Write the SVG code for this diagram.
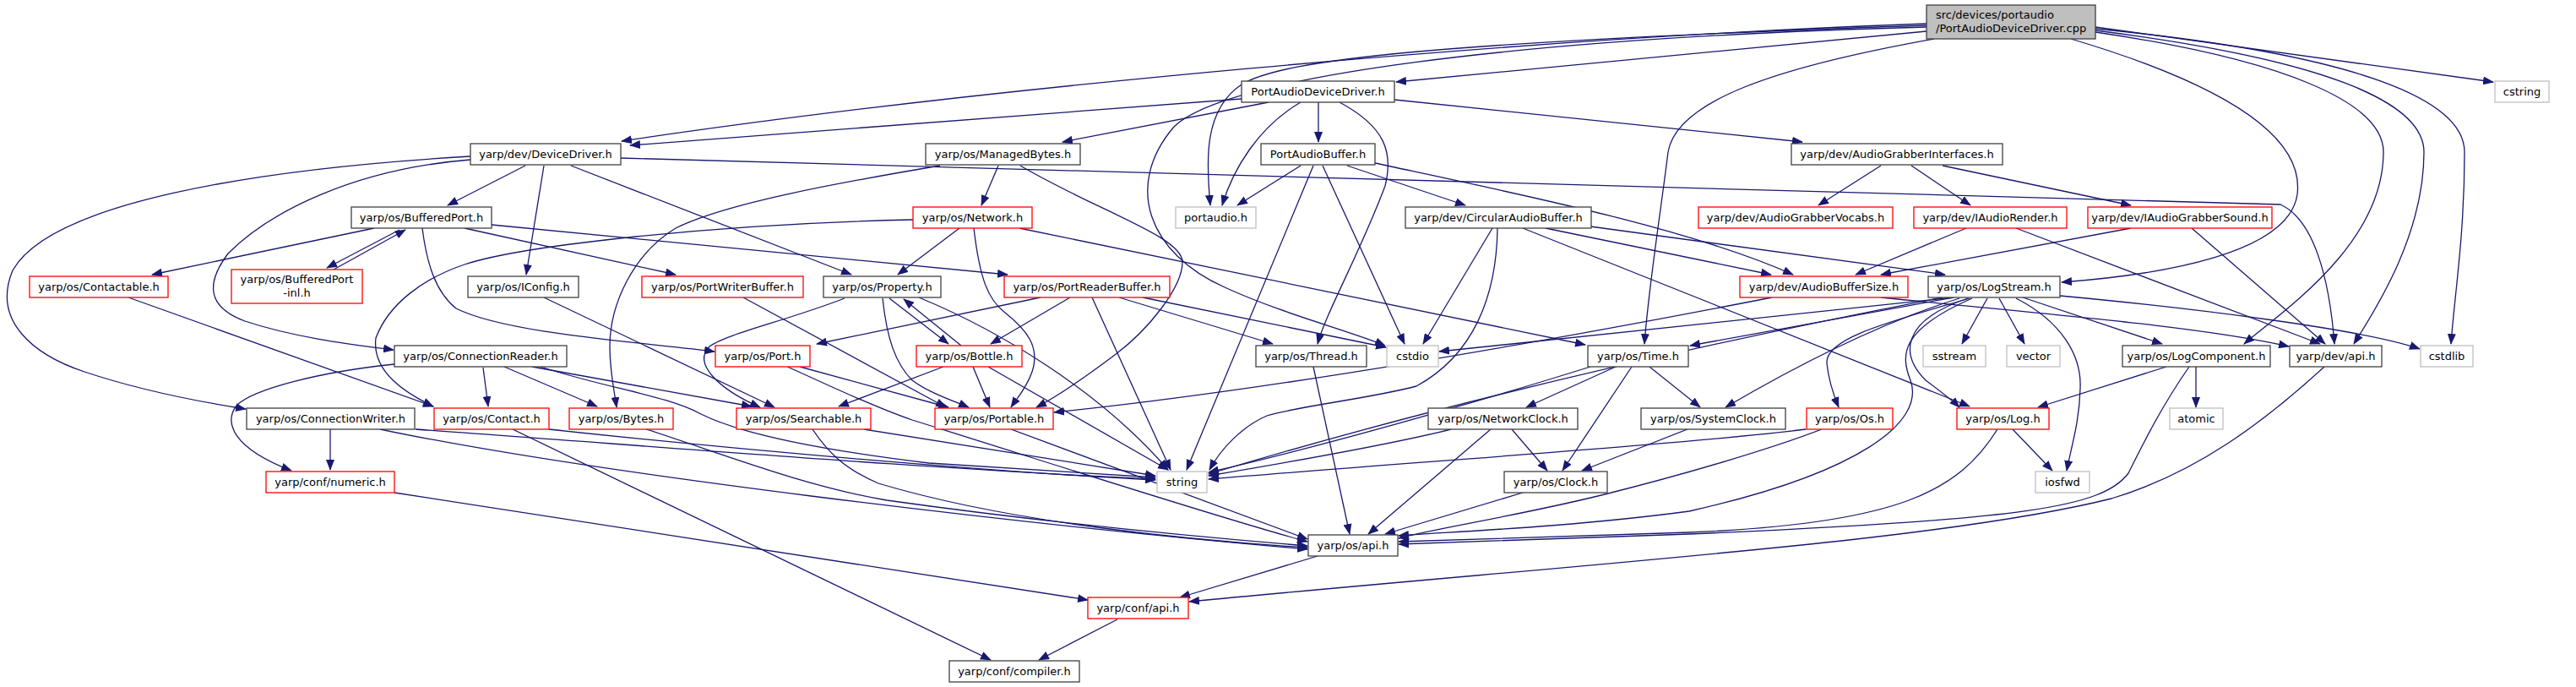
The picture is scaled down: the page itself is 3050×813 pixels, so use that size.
<svg xmlns="http://www.w3.org/2000/svg" width="3050" height="813" viewBox="0 0 3050 813">
<defs>
<marker id="ah" markerWidth="13" markerHeight="10" refX="12" refY="5" orient="auto" markerUnits="userSpaceOnUse"><path d="M0,0 L13,5 L0,10 z" fill="#191970"/></marker>
<style>
.n rect{fill:#fff;stroke:#404040;stroke-width:1.3}
.r rect{fill:#fff;stroke:#ff0000;stroke-width:1.3}
.g rect{fill:#fff;stroke:#bfbfbf;stroke-width:1.3}
.m rect{fill:#bfbfbf;stroke:#404040;stroke-width:1.3}
text{font-family:"DejaVu Sans","Liberation Sans",sans-serif;font-size:13px;fill:#000;text-anchor:middle}
.lt{text-anchor:start}
#edges path{fill:none;stroke:#191970;stroke-width:1.3;marker-end:url(#ah)}
</style>
</defs>
<rect width="3050" height="813" fill="#fff"/>
<g id="edges">
<path d="M2281,37 L1653,97"/>
<path d="M2281,28 C1800,45 1150,105 736,167"/>
<path d="M1470,117 L746,172"/>
<path d="M2281,30 C1700,50 1520,70 1470,100 C1425,130 1428,190 1433,243"/>
<path d="M2281,32 C1800,45 1450,90 1390,150 C1330,220 1360,300 1450,340 C1520,372 1600,392 1640,409"/>
<path d="M2290,46 C2100,80 1985,120 1975,180 C1965,260 1952,340 1947,407"/>
<path d="M2452,46 C2600,90 2730,150 2720,230 C2710,300 2560,325 2441,334"/>
<path d="M2481,38 C2700,70 2822,120 2822,180 C2822,290 2700,370 2657,407"/>
<path d="M2481,36 C2750,70 2870,120 2870,180 C2870,280 2810,370 2787,407"/>
<path d="M2481,34 C2800,65 2918,120 2918,180 C2918,280 2906,350 2902,407"/>
<path d="M2481,32 L2952,97"/>
<path d="M1502,121 L1258,168"/>
<path d="M1561,121 L1561,168"/>
<path d="M1540,121 C1490,150 1460,200 1447,243"/>
<path d="M1586,121 C1640,150 1650,180 1640,220 C1610,300 1570,370 1560,407"/>
<path d="M1651,118 L2134,168"/>
<path d="M1540,196 L1465,243"/>
<path d="M1555,196 L1405,556"/>
<path d="M1566,196 L1663,407"/>
<path d="M1595,196 L1735,243"/>
<path d="M1628,193 C1800,230 2000,270 2123,325"/>
<path d="M1767,270 L1685,407"/>
<path d="M1773,270 C1772,350 1745,420 1677,457 C1620,472 1540,480 1500,492 C1470,505 1445,532 1432,556"/>
<path d="M1803,270 L2332,481"/>
<path d="M1830,270 L2097,325"/>
<path d="M1883,268 L2303,325"/>
<path d="M2227,196 L2153,243"/>
<path d="M2263,196 L2333,243"/>
<path d="M2300,196 L2523,243"/>
<path d="M2328,270 L2197,325"/>
<path d="M2387,270 L2747,407"/>
<path d="M2523,270 L2227,325"/>
<path d="M2595,270 L2753,407"/>
<path d="M735,187 L2700,242 C2740,260 2758,330 2764,407"/>
<path d="M557,185 C300,200 60,240 15,320 C-10,380 40,420 100,440 C160,460 220,473 291,484"/>
<path d="M557,189 C420,200 320,250 270,300 C240,340 250,365 290,380 C350,400 420,408 466,414"/>
<path d="M622,196 L530,243"/>
<path d="M644,196 L623,325"/>
<path d="M676,196 L1008,325"/>
<path d="M1182,196 L1162,243"/>
<path d="M1208,196 C1300,250 1400,280 1400,310 C1400,340 1360,390 1320,420 C1280,450 1250,470 1227,482"/>
<path d="M1113,196 C1000,215 860,240 800,270 C750,300 722,360 722,410 C722,440 727,460 730,482"/>
<path d="M443,270 L180,325"/>
<path d="M473,272 L387,317"/>
<path d="M395,319 L480,272"/>
<path d="M500,270 C505,310 515,345 540,365 C600,395 760,405 846,416"/>
<path d="M550,270 L800,325"/>
<path d="M582,266 L1193,325"/>
<path d="M152,352 L513,481"/>
<path d="M644,352 L917,482"/>
<path d="M880,352 L1120,482"/>
<path d="M1000,353 C930,380 860,395 840,410 C820,430 850,460 900,482"/>
<path d="M1053,353 L1123,407"/>
<path d="M1138,409 L1070,354"/>
<path d="M1045,353 C1050,400 1060,430 1080,450 C1100,465 1130,475 1147,482"/>
<path d="M1088,352 C1180,390 1300,460 1383,556"/>
<path d="M1136,270 L1063,325"/>
<path d="M1153,270 C1160,330 1170,355 1190,370 C1215,390 1232,410 1222,440 C1215,460 1205,470 1197,482"/>
<path d="M1207,270 L1877,408"/>
<path d="M1081,260 C850,265 620,290 550,313 C500,330 460,360 445,400 C440,440 480,465 513,481"/>
<path d="M1232,352 L967,407"/>
<path d="M1267,352 L1173,407"/>
<path d="M1293,352 L1386,556"/>
<path d="M1325,352 L1507,407"/>
<path d="M1353,352 L1641,411"/>
<path d="M947,434 L1123,482"/>
<path d="M932,434 C980,455 1030,480 1080,497 C1250,550 1450,615 1548,641"/>
<path d="M1197,508 L1548,638"/>
<path d="M607,508 L1173,781"/>
<path d="M650,508 C900,535 1200,560 1368,568"/>
<path d="M765,508 C850,535 950,575 1050,592 C1250,620 1450,638 1548,646"/>
<path d="M962,508 C980,535 1000,555 1040,572 C1200,620 1420,640 1548,648"/>
<path d="M1023,508 L1368,563"/>
<path d="M572,435 L578,481"/>
<path d="M597,434 L707,481"/>
<path d="M630,434 L890,481"/>
<path d="M640,434 C720,460 790,468 830,490 C870,510 950,530 1100,548 L1368,565"/>
<path d="M467,431 C380,440 300,460 280,480 C265,500 275,530 345,557"/>
<path d="M391,508 L391,556"/>
<path d="M492,508 C800,530 1100,555 1368,567"/>
<path d="M450,508 C700,560 1200,620 1548,650"/>
<path d="M467,583 L1288,710"/>
<path d="M1117,434 L993,481"/>
<path d="M1152,434 L1172,482"/>
<path d="M1170,434 L1383,556"/>
<path d="M1555,434 L1598,632"/>
<path d="M1913,434 L1807,482"/>
<path d="M1932,434 L1850,557"/>
<path d="M1953,434 L2013,482"/>
<path d="M1883,434 C1800,460 1600,520 1431,559"/>
<path d="M1718,508 C1650,525 1520,548 1431,563"/>
<path d="M1765,508 L1620,632"/>
<path d="M1790,508 L1832,557"/>
<path d="M1998,508 L1873,557"/>
<path d="M1803,583 L1640,632"/>
<path d="M2138,508 C2000,525 1700,545 1431,567"/>
<path d="M2157,508 C2100,530 2000,560 1900,585 C1800,610 1700,625 1656,637"/>
<path d="M2383,508 L2430,557"/>
<path d="M2365,508 C2320,580 2250,620 2000,630 L1656,641"/>
<path d="M2600,434 L2600,482"/>
<path d="M2565,434 L2413,482"/>
<path d="M2592,434 C2560,480 2540,520 2520,560 C2490,600 2400,615 2000,632 L1656,644"/>
<path d="M2752,434 C2680,500 2600,560 2500,590 C2300,640 1900,665 1408,712"/>
<path d="M1560,658 L1397,707"/>
<path d="M1323,733 L1230,781"/>
<path d="M2330,353 C2250,380 2250,420 2280,450 C2300,465 2312,474 2320,482"/>
<path d="M2353,353 L2323,407"/>
<path d="M2367,353 L2397,407"/>
<path d="M2387,353 C2440,380 2465,420 2463,460 C2462,500 2452,530 2447,557"/>
<path d="M2395,352 L2560,407"/>
<path d="M2439,350 C2600,365 2800,390 2865,413"/>
<path d="M2320,353 Q2200,390 2043,482"/>
<path d="M2332,353 C2240,380 2160,400 2163,430 C2165,450 2170,465 2177,482"/>
<path d="M2335,353 C2250,390 2250,420 2262,450 C2280,500 2200,560 2000,605 C1850,625 1700,630 1656,634"/>
<path d="M2313,352 L2001,409"/>
<path d="M2313,352 L1704,416"/>
<path d="M2300,352 C2000,410 1700,480 1431,561"/>
<path d="M2098,352 C1800,410 1500,462 1248,488"/>
<path d="M2227,352 C2400,370 2600,385 2710,410"/>
</g>
<g id="n0" class="m"><rect x="2281" y="6" width="200" height="40"/><text class="lt" x="2292" y="22">src/devices/portaudio</text><text class="lt" x="2292" y="38">/PortAudioDeviceDriver.cpp</text></g>
<g id="n1" class="n"><rect x="1470" y="96" width="181" height="25"/><text x="1560.5" y="113">PortAudioDeviceDriver.h</text></g>
<g id="n2" class="g"><rect x="2954" y="96" width="64" height="25"/><text x="2986" y="113">cstring</text></g>
<g id="n3" class="n"><rect x="557" y="170" width="178" height="25"/><text x="646" y="187">yarp/dev/DeviceDriver.h</text></g>
<g id="n4" class="n"><rect x="1096" y="170" width="183" height="25"/><text x="1187.5" y="187">yarp/os/ManagedBytes.h</text></g>
<g id="n5" class="n"><rect x="1493" y="170" width="135" height="25"/><text x="1560.5" y="187">PortAudioBuffer.h</text></g>
<g id="n6" class="n"><rect x="2121" y="170" width="250" height="25"/><text x="2246" y="187">yarp/dev/AudioGrabberInterfaces.h</text></g>
<g id="n7" class="n"><rect x="416" y="245" width="166" height="25"/><text x="499" y="262">yarp/os/BufferedPort.h</text></g>
<g id="n8" class="r"><rect x="1081" y="245" width="141" height="25"/><text x="1151.5" y="262">yarp/os/Network.h</text></g>
<g id="n9" class="g"><rect x="1392" y="245" width="95" height="25"/><text x="1439.5" y="262">portaudio.h</text></g>
<g id="n10" class="n"><rect x="1664" y="245" width="220" height="25"/><text x="1774" y="262">yarp/dev/CircularAudioBuffer.h</text></g>
<g id="n11" class="r"><rect x="2011" y="245" width="230" height="25"/><text x="2126" y="262">yarp/dev/AudioGrabberVocabs.h</text></g>
<g id="n12" class="r"><rect x="2266" y="245" width="181" height="25"/><text x="2356.5" y="262">yarp/dev/IAudioRender.h</text></g>
<g id="n13" class="r"><rect x="2472" y="245" width="218" height="25"/><text x="2581" y="262">yarp/dev/IAudioGrabberSound.h</text></g>
<g id="n14" class="r"><rect x="35" y="327" width="164" height="25"/><text x="117" y="344">yarp/os/Contactable.h</text></g>
<g id="n15" class="r"><rect x="274" y="319" width="155" height="40"/><text x="351.5" y="335">yarp/os/BufferedPort</text><text x="351.5" y="351">-inl.h</text></g>
<g id="n16" class="n"><rect x="554" y="327" width="131" height="25"/><text x="619.5" y="344">yarp/os/IConfig.h</text></g>
<g id="n17" class="r"><rect x="760" y="327" width="191" height="25"/><text x="855.5" y="344">yarp/os/PortWriterBuffer.h</text></g>
<g id="n18" class="n"><rect x="975" y="327" width="139" height="25"/><text x="1044.5" y="344">yarp/os/Property.h</text></g>
<g id="n19" class="r"><rect x="1189" y="327" width="196" height="25"/><text x="1287" y="344">yarp/os/PortReaderBuffer.h</text></g>
<g id="n20" class="r"><rect x="2060" y="327" width="199" height="25"/><text x="2159.5" y="344">yarp/dev/AudioBufferSize.h</text></g>
<g id="n21" class="n"><rect x="2283" y="327" width="156" height="25"/><text x="2361" y="344">yarp/os/LogStream.h</text></g>
<g id="n22" class="n"><rect x="467" y="409" width="204" height="25"/><text x="569" y="426">yarp/os/ConnectionReader.h</text></g>
<g id="n23" class="r"><rect x="847" y="409" width="112" height="25"/><text x="903" y="426">yarp/os/Port.h</text></g>
<g id="n24" class="r"><rect x="1085" y="409" width="125" height="25"/><text x="1147.5" y="426">yarp/os/Bottle.h</text></g>
<g id="n25" class="n"><rect x="1487" y="409" width="131" height="25"/><text x="1552.5" y="426">yarp/os/Thread.h</text></g>
<g id="n26" class="g"><rect x="1642" y="409" width="61" height="25"/><text x="1672.5" y="426">cstdio</text></g>
<g id="n27" class="n"><rect x="1880" y="409" width="119" height="25"/><text x="1939.5" y="426">yarp/os/Time.h</text></g>
<g id="n28" class="g"><rect x="2277" y="409" width="74" height="25"/><text x="2314" y="426">sstream</text></g>
<g id="n29" class="g"><rect x="2376" y="409" width="63" height="25"/><text x="2407.5" y="426">vector</text></g>
<g id="n30" class="n"><rect x="2513" y="409" width="175" height="25"/><text x="2600.5" y="426">yarp/os/LogComponent.h</text></g>
<g id="n31" class="n"><rect x="2711" y="409" width="109" height="25"/><text x="2765.5" y="426">yarp/dev/api.h</text></g>
<g id="n32" class="g"><rect x="2866" y="409" width="62" height="25"/><text x="2897" y="426">cstdlib</text></g>
<g id="n33" class="n"><rect x="292" y="483" width="199" height="25"/><text x="391.5" y="500">yarp/os/ConnectionWriter.h</text></g>
<g id="n34" class="r"><rect x="514" y="483" width="136" height="25"/><text x="582" y="500">yarp/os/Contact.h</text></g>
<g id="n35" class="r"><rect x="674" y="483" width="123" height="25"/><text x="735.5" y="500">yarp/os/Bytes.h</text></g>
<g id="n36" class="r"><rect x="872" y="483" width="159" height="25"/><text x="951.5" y="500">yarp/os/Searchable.h</text></g>
<g id="n37" class="r"><rect x="1107" y="483" width="140" height="25"/><text x="1177" y="500">yarp/os/Portable.h</text></g>
<g id="n38" class="n"><rect x="1691" y="483" width="177" height="25"/><text x="1779.5" y="500">yarp/os/NetworkClock.h</text></g>
<g id="n39" class="n"><rect x="1943" y="483" width="171" height="25"/><text x="2028.5" y="500">yarp/os/SystemClock.h</text></g>
<g id="n40" class="r"><rect x="2139" y="483" width="102" height="25"/><text x="2190" y="500">yarp/os/Os.h</text></g>
<g id="n41" class="r"><rect x="2317" y="483" width="109" height="25"/><text x="2371.5" y="500">yarp/os/Log.h</text></g>
<g id="n42" class="g"><rect x="2569" y="483" width="63" height="25"/><text x="2600.5" y="500">atomic</text></g>
<g id="n43" class="r"><rect x="315" y="558" width="152" height="25"/><text x="391" y="575">yarp/conf/numeric.h</text></g>
<g id="n44" class="g"><rect x="1370" y="558" width="59" height="25"/><text x="1399.5" y="575">string</text></g>
<g id="n45" class="n"><rect x="1781" y="558" width="122" height="25"/><text x="1842" y="575">yarp/os/Clock.h</text></g>
<g id="n46" class="g"><rect x="2410" y="558" width="64" height="25"/><text x="2442" y="575">iosfwd</text></g>
<g id="n47" class="n"><rect x="1549" y="633" width="106" height="25"/><text x="1602" y="650">yarp/os/api.h</text></g>
<g id="n48" class="r"><rect x="1288" y="707" width="119" height="25"/><text x="1347.5" y="724">yarp/conf/api.h</text></g>
<g id="n49" class="n"><rect x="1124" y="782" width="154" height="25"/><text x="1201" y="799">yarp/conf/compiler.h</text></g>
</svg>
